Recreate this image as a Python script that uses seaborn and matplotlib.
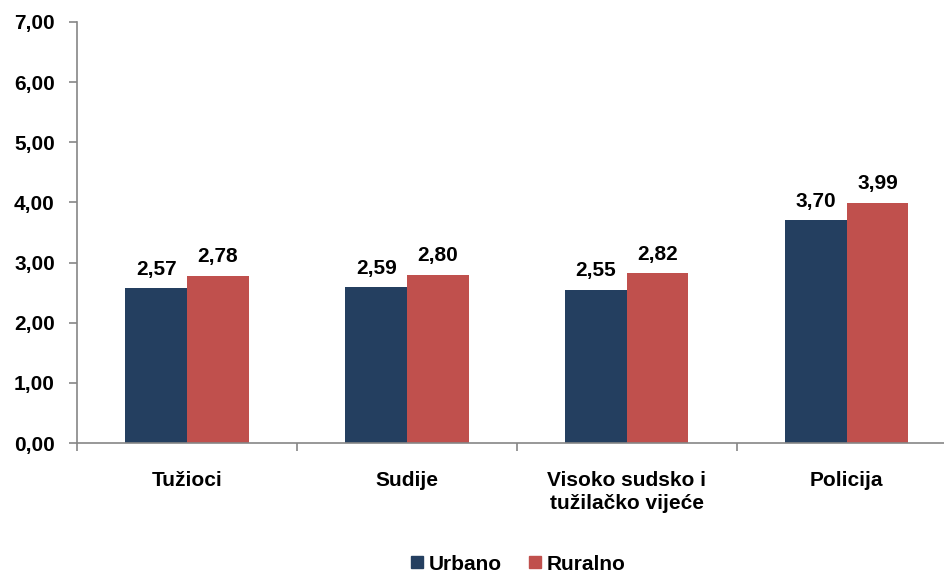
import matplotlib
matplotlib.use('Agg')
import matplotlib.pyplot as plt
import seaborn as sns
import pandas as pd
from matplotlib.lines import Line2D

# podaci sa grafikona
kategorije = ['Tužioci', 'Sudije', 'Visoko sudsko i\ntužilačko vijeće', 'Policija']
urbano = [2.57, 2.59, 2.55, 3.70]
ruralno = [2.78, 2.80, 2.82, 3.99]
serije = ['Urbano', 'Ruralno']
boje = ['#243F60', '#C0504D']

df = pd.DataFrame({
    'kategorija': kategorije * 2,
    'vrijednost': urbano + ruralno,
    'serija': [serije[0]] * len(kategorije) + [serije[1]] * len(kategorije),
})

sns.set_style('white')
plt.rcParams['font.family'] = ['Liberation Sans', 'DejaVu Sans']
plt.rcParams['font.weight'] = 'bold'
plt.rcParams['text.color'] = 'black'
plt.rcParams['xtick.color'] = 'black'
plt.rcParams['ytick.color'] = 'black'

fig = plt.figure(figsize=(9.44, 5.74), dpi=100)
ax = fig.add_axes([0.0816, 0.2282, 0.932, 0.7335])

sns.barplot(data=df, x='kategorija', y='vrijednost', hue='serija',
            palette=boje, width=0.56, gap=0, saturation=1,
            edgecolor='none', legend=False, ax=ax)

# oznake vrijednosti iznad stubića
for cont in ax.containers:
    labels = [f'{v:.2f}'.replace('.', ',') for v in cont.datavalues]
    ax.bar_label(cont, labels=labels, padding=7, fontsize=15, fontweight='bold',
                 color='black')

ax.set_ylim(0, 7)
ax.set_xlim(-0.5, 3.5)
ax.set_yticks(range(0, 8))
ax.set_yticklabels([f'{v},00' for v in range(0, 8)], fontsize=15, fontweight='bold')
ax.set_xticks([-0.5, 0.5, 1.5, 2.5, 3.5])
ax.set_xticklabels([])
ax.set_xticks(range(4), minor=True)
ax.set_xticklabels(kategorije, minor=True, fontsize=15, fontweight='bold',
                   linespacing=1.25, va='top')
ax.tick_params(axis='x', which='minor', bottom=False, length=0, pad=20)
ax.tick_params(axis='x', which='major', bottom=True, length=6, width=1.2,
               color='#868686', direction='out')
ax.tick_params(axis='y', left=True, length=6, width=1.2, color='#868686',
               direction='out', pad=10)
ax.set_xlabel('')
ax.set_ylabel('')

for s in ['top', 'right']:
    ax.spines[s].set_visible(False)
for s in ['left', 'bottom']:
    ax.spines[s].set_color('#868686')
    ax.spines[s].set_linewidth(1.2)

handles = [Line2D([], [], marker='s', linestyle='none', markersize=8,
                  markerfacecolor=c, markeredgecolor=c) for c in boje]
fig.legend(handles, serije, loc='center', bbox_to_anchor=(0.547, 0.017),
           ncol=2, frameon=False, handletextpad=0.05, handlelength=1.0,
           columnspacing=1.1, prop={'weight': 'bold', 'size': 15})

fig.savefig('out.png', dpi=100)
